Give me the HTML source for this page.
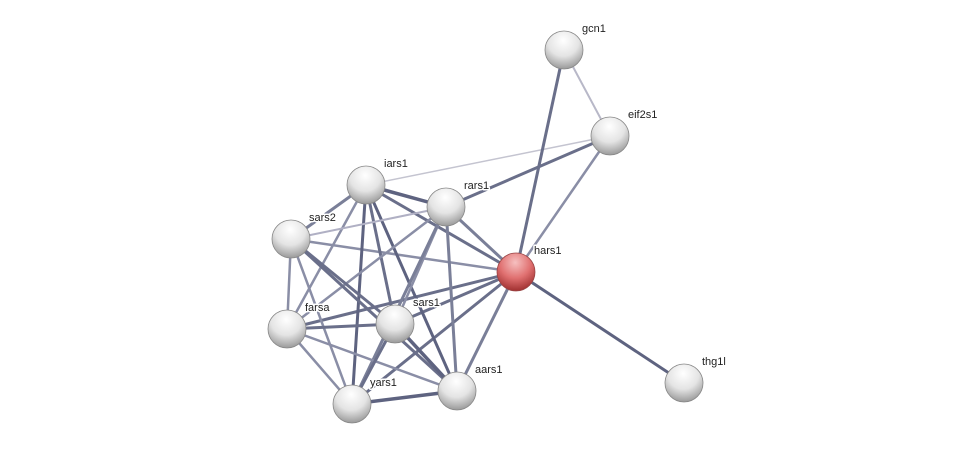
<!DOCTYPE html>
<html><head><style>html,body{margin:0;padding:0;background:#fff;}svg{display:block;}</style></head>
<body>
<svg width="975" height="449" xmlns="http://www.w3.org/2000/svg" font-family="Liberation Sans, sans-serif" font-size="11">
<defs>
<radialGradient id="g" cx="48%" cy="25%" r="75%">
<stop offset="0" stop-color="#ffffff"/><stop offset="0.55" stop-color="#e4e4e4"/><stop offset="1" stop-color="#9a9a9a"/>
</radialGradient>
<radialGradient id="r" cx="48%" cy="25%" r="75%">
<stop offset="0" stop-color="#f6c0c0"/><stop offset="0.55" stop-color="#e07070"/><stop offset="1" stop-color="#a03030"/>
</radialGradient>
</defs>
<g stroke-linecap="round">
<line x1="564" y1="50" x2="610" y2="136" stroke="#b8b8c8" stroke-width="2"/>
<line x1="610" y1="136" x2="366" y2="185" stroke="#c4c4d0" stroke-width="1.5"/>
<line x1="564" y1="50" x2="516" y2="272" stroke="#6a6f8a" stroke-width="3"/>
<line x1="610" y1="136" x2="516" y2="272" stroke="#8a8ea6" stroke-width="2.5"/>
<line x1="610" y1="136" x2="446" y2="207" stroke="#6a6f8a" stroke-width="3"/>
<line x1="516" y1="272" x2="684" y2="383" stroke="#5e6380" stroke-width="3"/>
<line x1="516" y1="272" x2="446" y2="207" stroke="#7a7f98" stroke-width="3"/>
<line x1="516" y1="272" x2="366" y2="185" stroke="#6a6f8a" stroke-width="3"/>
<line x1="516" y1="272" x2="291" y2="239" stroke="#8a8ea6" stroke-width="2.5"/>
<line x1="516" y1="272" x2="287" y2="329" stroke="#6a6f8a" stroke-width="3"/>
<line x1="516" y1="272" x2="395" y2="324" stroke="#6a6f8a" stroke-width="3"/>
<line x1="516" y1="272" x2="457" y2="391" stroke="#7a7f98" stroke-width="3"/>
<line x1="516" y1="272" x2="352" y2="404" stroke="#6a6f8a" stroke-width="3"/>
<line x1="366" y1="185" x2="446" y2="207" stroke="#5e6380" stroke-width="3.5"/>
<line x1="366" y1="185" x2="291" y2="239" stroke="#7a7f98" stroke-width="3"/>
<line x1="366" y1="185" x2="287" y2="329" stroke="#8a8ea6" stroke-width="2.5"/>
<line x1="366" y1="185" x2="395" y2="324" stroke="#6a6f8a" stroke-width="3"/>
<line x1="366" y1="185" x2="457" y2="391" stroke="#5e6380" stroke-width="3"/>
<line x1="366" y1="185" x2="352" y2="404" stroke="#5e6380" stroke-width="3"/>
<line x1="446" y1="207" x2="291" y2="239" stroke="#b0b0c4" stroke-width="2"/>
<line x1="446" y1="207" x2="287" y2="329" stroke="#8a8ea6" stroke-width="2.5"/>
<line x1="446" y1="207" x2="395" y2="324" stroke="#8a8ea6" stroke-width="2.5"/>
<line x1="446" y1="207" x2="457" y2="391" stroke="#7a7f98" stroke-width="3"/>
<line x1="446" y1="207" x2="352" y2="404" stroke="#7a7f98" stroke-width="3"/>
<line x1="291" y1="239" x2="287" y2="329" stroke="#8a8ea6" stroke-width="2.5"/>
<line x1="291" y1="239" x2="395" y2="324" stroke="#6a6f8a" stroke-width="3"/>
<line x1="291" y1="239" x2="457" y2="391" stroke="#6a6f8a" stroke-width="3"/>
<line x1="291" y1="239" x2="352" y2="404" stroke="#8a8ea6" stroke-width="2.5"/>
<line x1="287" y1="329" x2="395" y2="324" stroke="#6a6f8a" stroke-width="3"/>
<line x1="287" y1="329" x2="457" y2="391" stroke="#8a8ea6" stroke-width="2.5"/>
<line x1="287" y1="329" x2="352" y2="404" stroke="#8a8ea6" stroke-width="2.5"/>
<line x1="395" y1="324" x2="457" y2="391" stroke="#5e6380" stroke-width="3.5"/>
<line x1="395" y1="324" x2="352" y2="404" stroke="#6a6f8a" stroke-width="3"/>
<line x1="457" y1="391" x2="352" y2="404" stroke="#5e6380" stroke-width="3.5"/>
</g>
<g stroke="#888" stroke-width="0.8">
<circle cx="564" cy="50" r="19" fill="url(#g)"/>
<circle cx="610" cy="136" r="19" fill="url(#g)"/>
<circle cx="366" cy="185" r="19" fill="url(#g)"/>
<circle cx="446" cy="207" r="19" fill="url(#g)"/>
<circle cx="291" cy="239" r="19" fill="url(#g)"/>
<circle cx="516" cy="272" r="19" fill="url(#r)" stroke="#944"/>
<circle cx="287" cy="329" r="19" fill="url(#g)"/>
<circle cx="395" cy="324" r="19" fill="url(#g)"/>
<circle cx="457" cy="391" r="19" fill="url(#g)"/>
<circle cx="352" cy="404" r="19" fill="url(#g)"/>
<circle cx="684" cy="383" r="19" fill="url(#g)"/>
</g>
<g fill="#222" stroke="#fff" stroke-width="3" stroke-linejoin="round" paint-order="stroke">
<text x="582" y="32">gcn1</text>
<text x="628" y="118">eif2s1</text>
<text x="384" y="167">iars1</text>
<text x="464" y="189">rars1</text>
<text x="309" y="221">sars2</text>
<text x="534" y="254">hars1</text>
<text x="305" y="311">farsa</text>
<text x="413" y="306">sars1</text>
<text x="475" y="373">aars1</text>
<text x="370" y="386">yars1</text>
<text x="702" y="365">thg1l</text>
</g>
</svg>
</body></html>
